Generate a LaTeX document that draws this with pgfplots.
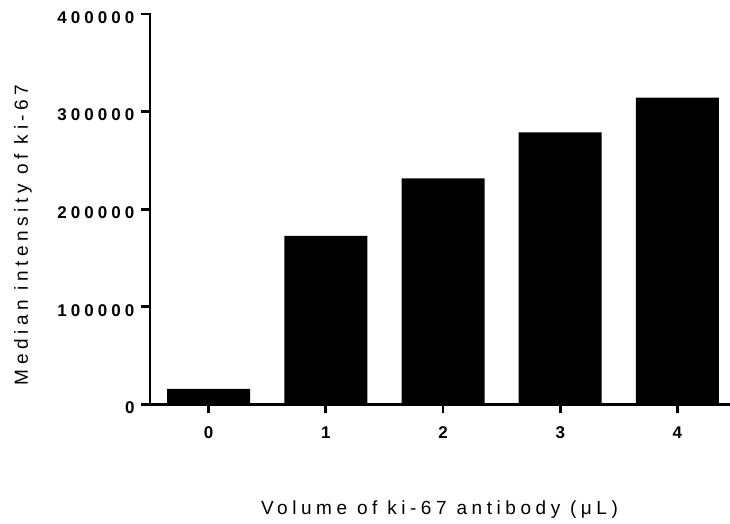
\documentclass[border=0pt]{standalone}
\usepackage{fontspec}
\setmainfont{Liberation Sans}
\newfontfamily\tickfont[LetterSpace=24]{Liberation Sans}
\newfontfamily\labfont[LetterSpace=24]{Liberation Sans}
\usepackage{pgfplots}
\pgfplotsset{compat=1.18}
\begin{document}
\begin{tikzpicture}[x=1pt,y=1pt]
\useasboundingbox (0,0) rectangle (730,524);
\begin{axis}[
  at={(150pt,119.7pt)}, anchor=south west,
  scale only axis, width=579pt, height=390.3pt,
  xmin=-0.5, xmax=4.44, ymin=0, ymax=400000,
  axis x line=bottom, axis y line=left,
  axis line style={-, line width=2.8pt, line cap=rect},
  every outer x axis line/.append style={-},
  every outer y axis line/.append style={-},
  scaled y ticks=false,
  ytick={0,100000,200000,300000,400000},
  yticklabels={0,100000,200000,300000,400000},
  xtick={0,1,2,3,4},
  xticklabels={0,1,2,3,4},
  tick align=outside,
  major tick length=9pt,
  tick style={line width=2.8pt, black},
  tick label style={font=\tickfont\bfseries\fontsize{17}{17}\selectfont},
  yticklabel style={yshift=-3.5pt, xshift=-3pt},
  xticklabel style={yshift=-10pt},
  xlabel={Volume of ki-67 antibody (μL)},
  ylabel={Median intensity of ki-67},
  label style={font=\labfont\fontsize{19}{19}\selectfont},
  xlabel style={at={(axis description cs:0.5,-0.2836)}, anchor=base},
  ylabel style={at={(axis description cs:-0.211,0.434)}, anchor=base},
]
\addplot[ybar, bar width=83pt, bar shift=0pt, fill=black, draw=none]
  coordinates {(0,15700) (1,172500) (2,231600) (3,278800) (4,314200)};
\end{axis}
\end{tikzpicture}
\end{document}
